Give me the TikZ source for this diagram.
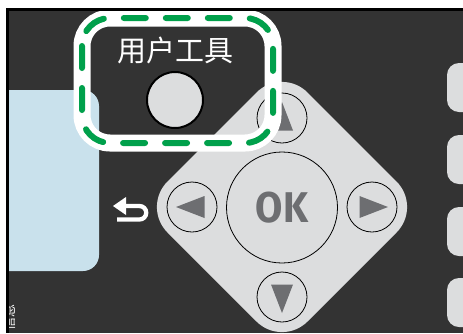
\documentclass[tikz,border=0pt]{standalone}
\usepackage{fontspec}
\newfontfamily\cjk{Noto Sans CJK SC}
\newfontfamily\oksans{Fira Sans}
\definecolor{panel}{HTML}{333333}
\definecolor{keygray}{HTML}{DCDDDE}
\definecolor{arrowgray}{HTML}{6D6E71}
\definecolor{screenblue}{HTML}{C9E1EC}
\definecolor{markgreen}{HTML}{00A04B}
\tikzset{
  smallkey/.style={circle, draw=black, line width=0.8pt, fill=keygray, minimum size=50pt, inner sep=0pt},
  sidekey/.style={fill=keygray, rounded corners=12pt},
}

\begin{document}
\begin{tikzpicture}[x=1pt, y=-1pt]
\useasboundingbox (0,0) rectangle (463,333);
% --- Panel ---
\fill[black] (6,8) rectangle (463,333);
\begin{scope}
\clip (9,11) rectangle (463,333);
\fill[panel] (9,11) rectangle (463,333);
\fill[screenblue, rounded corners=16pt] (-30,90) rectangle (99,271);
% --- Navigation pad ---
\fill[keygray, rounded corners=36pt] (282,67) -- (422,207) -- (282,347) -- (142,207) -- cycle;
\node[circle, draw=black, line width=0.8pt, fill=keygray, minimum size=111pt, inner sep=0pt] (ok) at (282,207.5) {};
\node[text=arrowgray, font=\oksans\bfseries\fontsize{43}{43}\selectfont, xscale=0.92] (oklabel) at (ok) {OK};
\node[smallkey] (up) at (282,118) {};
\node[smallkey] (down) at (282,297) {};
\node[smallkey] (left) at (192,207) {};
\node[smallkey] (right) at (372,207) {};
\foreach \k/\a in {right/0, up/90, left/180, down/270}
  \fill[arrowgray, shift={(\k.center)}, rotate=\a] (16,0) -- (-12.5,-11) -- (-12.5,11) -- cycle;
% --- Return key icon ---
\coordinate (ret) at (139.5,206);
\draw[white, line width=4.3pt] (124,206) -- (ret) arc[start angle=-90, end angle=90, radius=6.75] -- (117,219.5);
\fill[white] (113,206) -- (126,197) -- (126,215) -- cycle;
% --- Side keys ---
\foreach \y in {63,135,207,278}
  \fill[sidekey] (447,\y) rectangle (490,\y+49);
% --- User tools key ---
\node[circle, draw=black, line width=2pt, fill=keygray, minimum size=56pt, inner sep=0pt] (utkey) at (175,100) {};
\node[text=white, font=\cjk\fontsize{29}{29}\selectfont] (utlabel) at (175,50) {用户工具};
% --- Highlight frame ---
\draw[white, line width=17pt, rounded corners=28pt] (82,18) rectangle (273,143);
\draw[markgreen, line width=6pt, rounded corners=28pt, dash pattern=on 22pt off 20pt, line cap=round] (82,18) rectangle (273,143);
% --- Cut label ---
\node[rotate=90, text=white, font=\cjk\fontsize{13}{13}\selectfont] (cutlabel) at (10,317) {信息};
\end{scope}
\end{tikzpicture}
\end{document}
